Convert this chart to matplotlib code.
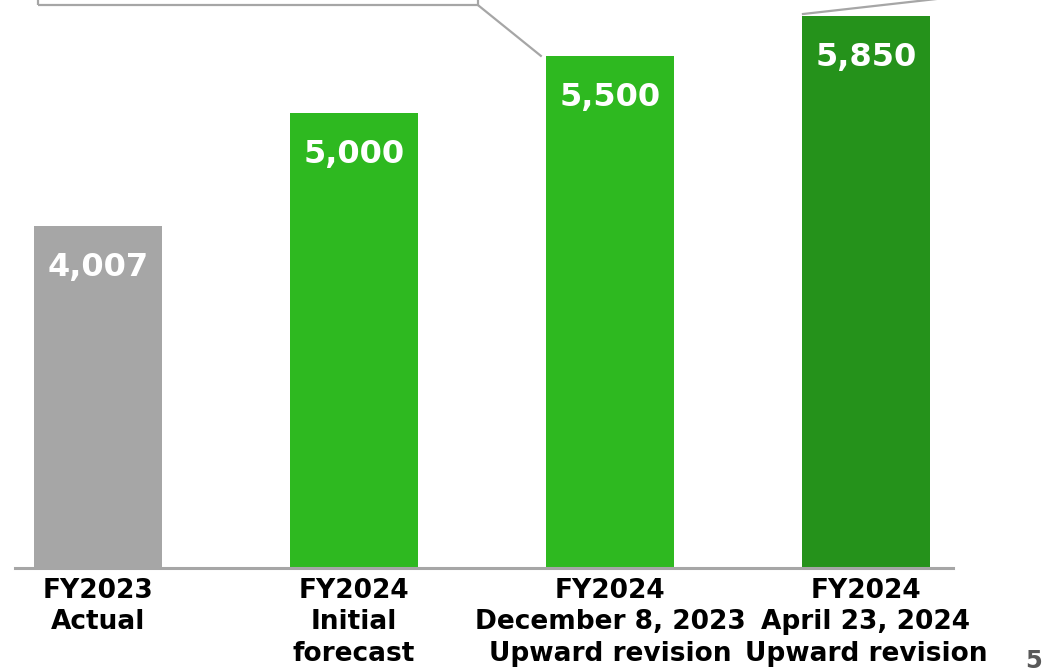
import matplotlib
matplotlib.use('Agg')
import matplotlib.pyplot as plt
from matplotlib.patches import Rectangle

# sales forecast figures
categories = ['FY2023\nActual',
              'FY2024\nInitial\nforecast',
              'FY2024\nDecember 8, 2023\nUpward revision',
              'FY2024\nApril 23, 2024\nUpward revision']
values = [4007, 5000, 5500, 5850]
value_labels = ['4,007', '5,000', '5,500', '5,850']
colors = ['#a6a6a6', '#2eb920', '#2eb920', '#25921b']

plt.rcParams['font.family'] = ['DejaVu Sans']

fig = plt.figure(figsize=(10.43, 6.72), dpi=100)
ax = fig.add_axes([15 / 1043, 104 / 672, 938 / 1043, 568 / 672])

x = range(len(values))
width = 0.5
bars = ax.bar(x, values, width=width, color=colors, zorder=2)

ax.set_xlim(-0.324, 3.34)
ax.set_ylim(1006, 5990)

# white value labels inside each bar near the top
for b, lab in zip(bars, value_labels):
    ax.annotate(lab, (b.get_x() + b.get_width() / 2, b.get_height()),
                xytext=(0, -30), textcoords='offset points',
                ha='center', va='center', color='white',
                fontsize=23, fontweight='bold', zorder=3)

ax.set_xticks(list(x))
ax.set_xticklabels(categories, fontsize=19, fontweight='bold',
                   linespacing=1.28, va='top')
ax.tick_params(axis='x', length=0, pad=7)
ax.set_yticks([])

for s in ['top', 'left', 'right']:
    ax.spines[s].set_visible(False)
ax.spines['bottom'].set_color('#a6a6a6')
ax.spines['bottom'].set_linewidth(2.2)
ax.spines['bottom'].set_zorder(4)

# leader lines to the callout boxes above the chart
line_kw = dict(color='#a6a6a6', lw=1.6, clip_on=False, zorder=1)
box_y = 5946
ax.add_patch(Rectangle((-0.234, box_y), 1.718, 400, fill=False,
                       edgecolor='#a6a6a6', lw=1.6, clip_on=False))
ax.plot([1.484, bars[2].get_x() - 0.02], [box_y, values[2]], **line_kw)
ax.plot([bars[3].get_x() + 0.004, 3.75], [values[3] + 17, 6119], **line_kw)

# page number
fig.text(1025 / 1043, 4 / 672, '5', fontsize=17.5, fontweight='bold',
         color='#595959', ha='left', va='baseline')

fig.savefig('out.png', dpi=100)
